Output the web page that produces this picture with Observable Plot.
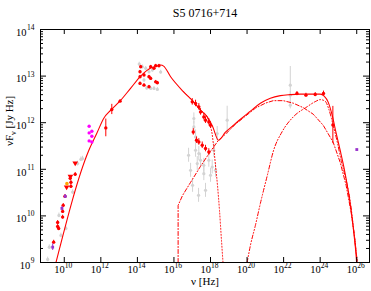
<!DOCTYPE html>
<html><head><meta charset="utf-8">
<script src="https://cdn.jsdelivr.net/npm/d3@7"></script>
<script src="https://cdn.jsdelivr.net/npm/@observablehq/plot@0.6"></script>
<style>body{margin:0;background:#fff} svg{display:block}</style>
</head><body><div id="chart"></div>
<script>
const title = "S5 0716+714";
const xLabel = "ν [Hz]";
const yLabel = "νFν [Jy Hz]";
const xTickExp = [10,12,14,16,18,20,22,24,26];
const yTickExp = [9,10,11,12,13,14];

// model curves (log10 ν, log10 νFν)
const totalLogNu = [9.545,11.345,11.781,12.163,12.545,13.091,13.636,14.182,14.727,15.0,15.273,15.437,15.818,16.528,17.073,17.455,17.821,18.11,18.437,18.819,19.255,19.637,20.183,20.729,21.274,21.82,22.365,22.911,23.456,24.002,24.22,24.438,24.657,24.875,25.093,25.311,25.529,25.693,25.857,25.966,25.993];
const totalLogF = [9.0,11.409,11.774,12.097,12.269,12.484,12.742,13.0,13.172,13.204,13.237,13.215,12.985,12.662,12.447,12.269,12.125,11.925,11.624,11.796,11.946,12.075,12.247,12.419,12.527,12.581,12.602,12.613,12.613,12.613,12.570,12.441,12.161,11.774,11.409,11.022,10.548,10.118,9.581,9.151,9.0];
const syncLogNu = [16.528,17.073,17.455,17.821,17.946,18.083,18.164,18.273,18.382,18.492,18.601,18.683];
const syncLogF = [12.662,12.447,12.269,12.125,11.968,11.774,11.516,11.086,10.656,10.118,9.473,9.0];
const sscLogNu = [16.228,16.228,16.473,16.91,17.455,18.001,18.437,18.819,19.365,19.91,20.456,21.001,21.438,21.983,22.529,23.074,23.62,24.165,24.711,25.093,25.42,25.693,25.911,26.02];
const sscLogF = [9.0,10.226,10.441,10.72,11.065,11.387,11.624,11.753,11.968,12.140,12.312,12.419,12.473,12.473,12.419,12.323,12.183,11.946,11.581,11.151,10.656,10.075,9.473,9.0];
const ecLogNu = [20.003,20.183,20.456,20.729,21.11,21.454,21.912,22.529,23.276,23.729,24.002,24.275,24.455,24.711,24.913,25.147,25.459,25.638,25.818,26.004,26.048];
const ecLogF = [9.0,9.366,9.796,10.269,10.871,11.409,11.802,12.125,12.34,12.452,12.495,12.462,12.312,11.946,11.624,11.194,10.699,10.333,9.759,9.114,9.0];

// observed data (log10 ν, log10 νFν, error in dex)
const redLogNu = [9.419,9.637,9.692,9.637,9.910,9.910,9.943,10.036,10.325,10.363,10.363,10.598,
  12.272,12.6,13.052,
  14.182,14.144,14.362,14.144,14.635,14.727,14.907,15.0,15.18,14.727,15.0,15.093,14.144,14.362,14.635,
  17.002,17.182,17.362,17.455,17.635,17.728,17.908,18.001,
  17.057,17.237,17.362,17.548,17.728,17.908,
  22.731,23.222,23.729,24.182,24.695];
const redLogF = [9.437,9.86,9.731,9.774,10.097,9.974,10.226,10.419,10.806,10.72,10.634,10.892,
  11.888,12.284,12.462,
  13.2,13.092,13.022,12.985,12.985,13.2,13.166,13.222,13.222,12.951,12.877,12.856,12.843,12.806,12.77,
  12.447,12.413,12.34,12.232,12.125,12.054,12.017,11.946,
  11.802,11.624,11.587,11.516,11.445,11.372,
  12.628,12.591,12.606,12.628,11.95];
const redErr = [0.04,0.04,0.04,0.04,0.04,0.04,0.04,0.04,0.04,0.04,0.04,0.04,
  0.19,0.11,0.03,
  0.03,0.03,0.03,0.03,0.03,0.03,0.03,0.03,0.03,0.03,0.03,0.03,0.03,0.03,0.03,
  0.07,0.07,0.07,0.07,0.07,0.07,0.07,0.07,
  0.07,0.07,0.07,0.07,0.07,0.07,
  0.04,0.04,0.04,0.05,0.4];
const ulLogNu = [10.598,10.336,10.128];
const ulLogF = [11.135,10.849,10.619];
const magLogNu = [11.361,11.509,11.361,11.509,11.361,11.509];
const magLogF = [11.925,11.817,11.781,11.71,11.609,11.587];
const purLogNu = [9.365,9.872,10.052,26.004];
const purLogF = [9.329,10.161,10.419,11.424];
const purErr = [0.07,0.04,0.04,0];
const orgLogNu = [10.145];
const orgLogF = [10.692];
const greyLogNu = [9.092,10.909,10.728,10.999,10.456,10.09,9.817,9.179,9.708,
  14.275,14.455,14.635,14.362,14.727,15.093,14.907,14.82,14.1,15.273,14.509,
  17.09,17.09,17.182,17.182,17.362,17.455,17.635,17.908,18.093,18.273,18.181,18.366,18.912,18.001,17.635,17.275,16.91,17.019,17.346,17.728,16.801,
  22.365,22.365,22.365];
const greyLogF = [9.065,11.215,11.123,11.23,10.512,9.731,9.581,9.329,10.011,
  13.2,13.166,13.092,12.914,12.735,12.714,12.735,13.129,13.258,13.086,12.742,
  12.09,11.91,11.695,11.409,11.338,11.194,11.086,11.194,11.049,10.978,11.409,11.768,12.054,10.871,10.907,11.123,10.978,10.656,10.441,10.548,11.301,
  12.806,12.591,12.376];
const greyErr = [0.05,0.05,0.05,0.05,0.05,0.05,0.05,0.05,0.05,
  0.04,0.04,0.04,0.04,0.04,0.04,0.04,0.04,0.04,0.04,0.04,
  0.12,0.12,0.15,0.15,0.15,0.15,0.15,0.15,0.15,0.15,0.15,0.15,0.3,0.15,0.15,0.15,0.15,0.15,0.15,0.15,0.15,
  0.4,0.08,0.08];

const curve = (lx, ly) => lx.map((v, i) => ({x: 10 ** v, y: 10 ** ly[i]}));
const pts = (lx, ly, le) => lx.map((v, i) => ({x: 10 ** v, y: 10 ** ly[i], lo: 10 ** (ly[i] - (le ? le[i] : 0)), hi: 10 ** (ly[i] + (le ? le[i] : 0))}));

const total = curve(totalLogNu, totalLogF);
const sync = curve(syncLogNu, syncLogF);
const ssc = curve(sscLogNu, sscLogF);
const ec = curve(ecLogNu, ecLogF);
const red = pts(redLogNu, redLogF, redErr);
const ul = pts(ulLogNu, ulLogF);
const mag = pts(magLogNu, magLogF);
const pur = pts(purLogNu, purLogF, purErr);
const org = pts(orgLogNu, orgLogF);
const grey = pts(greyLogNu, greyLogF, greyErr);

const W = 371, H = 291, mL = 40, mR = 2, mT = 29, mB = 29;
const fw = W - mL - mR, fh = H - mT - mB;
const xMajor = xTickExp.map(e => 10 ** e);
const yMajor = yTickExp.map(e => 10 ** e);
const yMinor = [];
for (const e of yTickExp.slice(0, -1)) for (let k = 2; k <= 9; k++) yMinor.push(k * 10 ** e);

const RED = "#ff0000", GREY = "#d3d3d3";
const font = "Liberation Serif";

const svg = Plot.plot({
  width: W, height: H,
  marginLeft: mL, marginRight: mR, marginTop: mT, marginBottom: mB,
  x: {type: "log", domain: [5e8, 5e26], axis: null},
  y: {type: "log", domain: [1e9, 1e14], axis: null},
  style: {fontFamily: font, background: "white", color: "black"},
  marks: [
    // archival grey
    Plot.ruleX(grey, {x: "x", y1: "lo", y2: "hi", stroke: GREY, strokeWidth: 1}),
    Plot.dot(grey, {x: "x", y: "y", r: 1.6, fill: GREY}),
    // model curves
    Plot.line(sync, {x: "x", y: "y", stroke: RED, strokeWidth: 1, strokeDasharray: "1,2", curve: "monotone-x", clip: true}),
    Plot.line(ssc, {x: "x", y: "y", stroke: RED, strokeWidth: 1, strokeDasharray: "4,2,1,2", curve: "linear", clip: true}),
    Plot.line(ec, {x: "x", y: "y", stroke: RED, strokeWidth: 1, strokeDasharray: "4,2,1,2,1,2", curve: "monotone-x", clip: true}),
    Plot.line(total, {x: "x", y: "y", stroke: RED, strokeWidth: 1.1, curve: "monotone-x", clip: true}),
    // data
    Plot.ruleX(red, {x: "x", y1: "lo", y2: "hi", stroke: RED, strokeWidth: 1}),
    Plot.dot(red, {x: "x", y: "y", r: 1.7, fill: RED}),
    Plot.dot(ul, {x: "x", y: "y", r: 2.1, symbol: "triangle", rotate: 180, fill: RED}),
    Plot.dot(mag, {x: "x", y: "y", r: 1.7, fill: "#ff00ff"}),
    Plot.ruleX(pur, {x: "x", y1: "lo", y2: "hi", stroke: "#9932cc", strokeWidth: 1}),
    Plot.dot(pur, {x: "x", y: "y", r: 1.6, symbol: "square", fill: "#9932cc"}),
    Plot.dot(org, {x: "x", y: "y", r: 1.8, fill: "#ffa500"}),
    // frame & ticks
    Plot.frame({stroke: "black", strokeWidth: 1}),
    Plot.ruleX(xMajor, {x: d => d, insetTop: fh - 5, stroke: "black"}),
    Plot.ruleX(xMajor, {x: d => d, insetBottom: fh - 5, stroke: "black"}),
    Plot.ruleY(yMajor, {y: d => d, insetRight: fw - 6, stroke: "black"}),
    Plot.ruleY(yMajor, {y: d => d, insetLeft: fw - 6, stroke: "black"}),
    Plot.ruleY(yMinor, {y: d => d, insetRight: fw - 3, stroke: "black"}),
    Plot.ruleY(yMinor, {y: d => d, insetLeft: fw - 3, stroke: "black"}),
    // tick labels
    Plot.text(xTickExp, {x: e => 10 ** e, text: () => "10", frameAnchor: "bottom", textAnchor: "end", dy: 10, dx: 0.5, fontSize: 10.5}),
    Plot.text(xTickExp, {x: e => 10 ** e, text: e => String(e), frameAnchor: "bottom", textAnchor: "start", dy: 5, dx: 0.5, fontSize: 7.5}),
    Plot.text(yTickExp.filter(e => e >= 10), {y: e => 10 ** e, text: () => "10", frameAnchor: "left", textAnchor: "end", dx: -14, dy: 3, fontSize: 10.5}),
    Plot.text(yTickExp.filter(e => e < 10), {y: e => 10 ** e, text: () => "10", frameAnchor: "left", textAnchor: "end", dx: -10.2, dy: 3, fontSize: 10.5}),
    Plot.text(yTickExp, {y: e => 10 ** e, text: e => String(e), frameAnchor: "left", textAnchor: "end", dx: -6, dy: -2, fontSize: 7.5}),
    // titles
    Plot.text([title], {text: d => d, frameAnchor: "top", dy: -21, fontSize: 12}),
    Plot.text([xLabel], {text: d => d, frameAnchor: "bottom", dy: 22.5, fontSize: 11}),
    Plot.text([yLabel], {text: d => d, frameAnchor: "left", dx: -31, rotate: -90, fontSize: 11})
  ]
});

// subscript ν in y label
svg.querySelectorAll("text").forEach(t => {
  if (t.textContent === yLabel) {
    t.textContent = "";
    const ns = "http://www.w3.org/2000/svg";
    const a = document.createElementNS(ns, "tspan"); a.textContent = "νF";
    const b = document.createElementNS(ns, "tspan"); b.textContent = "ν"; b.setAttribute("dy", "3"); b.setAttribute("font-size", "8");
    const c = document.createElementNS(ns, "tspan"); c.textContent = " [Jy Hz]"; c.setAttribute("dy", "-3");
    t.append(a, b, c);
  }
});
document.getElementById("chart").append(svg);
</script>
</body></html>
